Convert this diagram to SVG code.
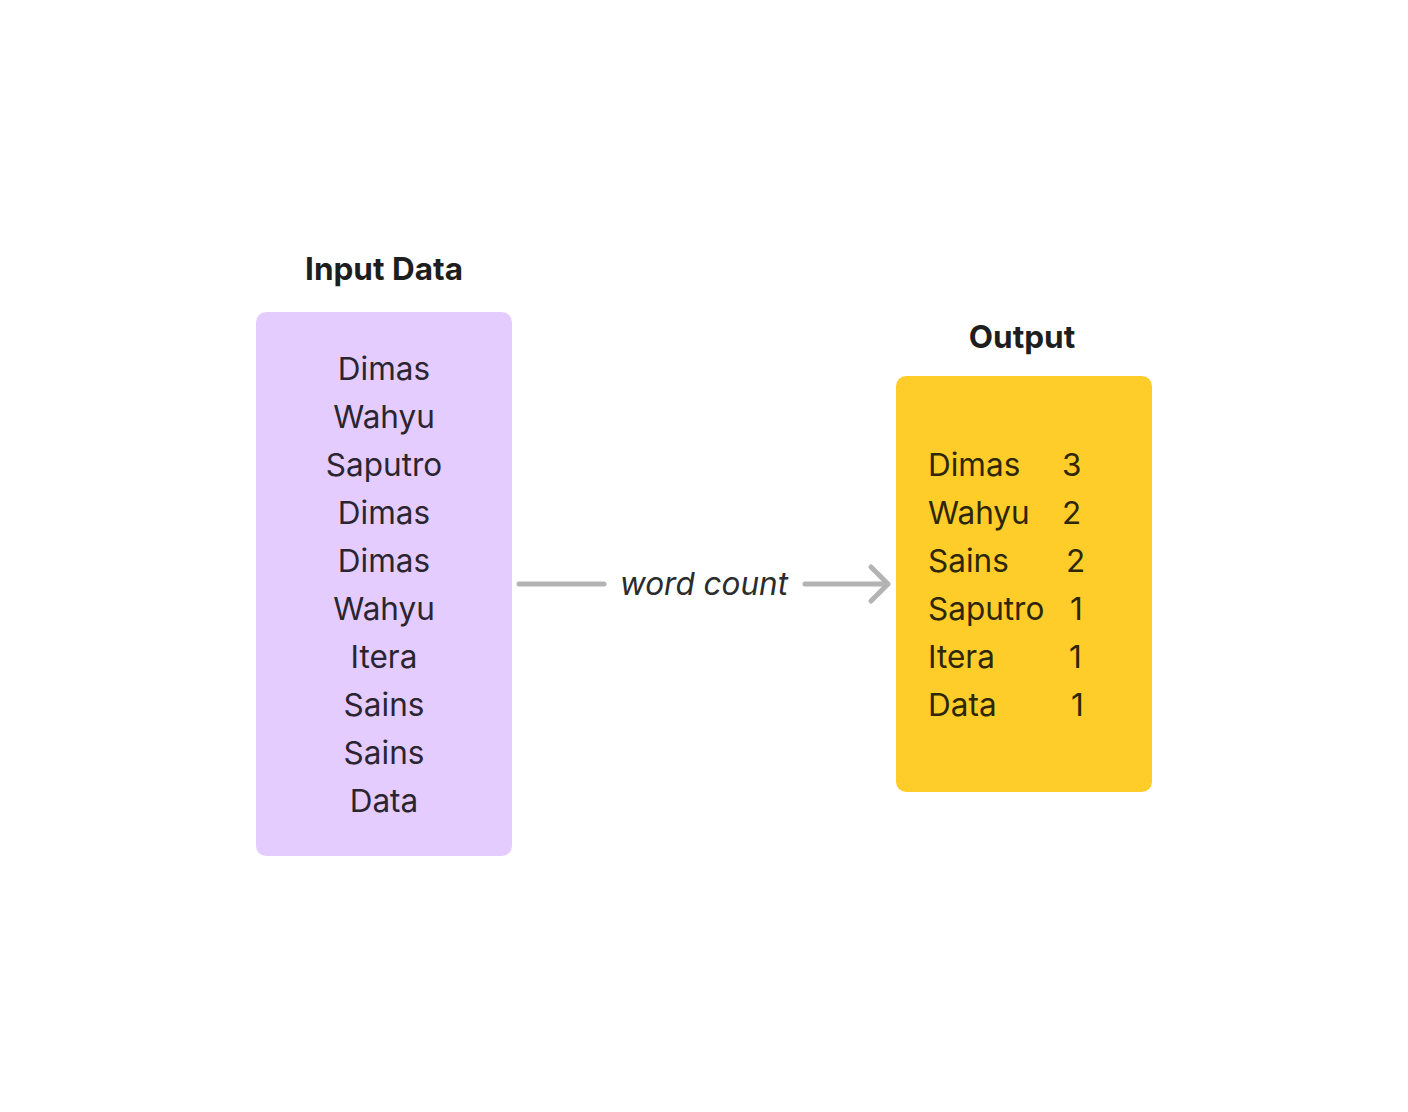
<svg xmlns="http://www.w3.org/2000/svg" width="1408" height="1112" viewBox="0 0 1408 1112">
<style>
.t{font-family:Inter,"Noto Sans",sans-serif;font-size:31.5px;fill:#2a2530}
.title{font-family:Inter,"Noto Sans",sans-serif;font-size:31.5px;font-weight:700;fill:#1e1e1e;text-anchor:middle}
.c{text-anchor:middle}
.o{fill:#2e2608}
.conn{stroke:#b3b3b3;stroke-width:5;stroke-linecap:round;stroke-linejoin:round;fill:none}
.lbl{font-family:Inter,"Noto Sans",sans-serif;font-size:31.5px;font-style:italic;fill:#2c2c2c;text-anchor:middle}
</style>
<rect width="1408" height="1112" fill="#ffffff"/>
<g id="input">
<text class="title" x="384" y="280">Input Data</text>
<rect x="256" y="312" width="256" height="544" rx="10" fill="#e4ccff"/>
<text class="t c" x="384" y="380">Dimas</text>
<text class="t c" x="384" y="428">Wahyu</text>
<text class="t c" x="384" y="476">Saputro</text>
<text class="t c" x="384" y="524">Dimas</text>
<text class="t c" x="384" y="572">Dimas</text>
<text class="t c" x="384" y="620">Wahyu</text>
<text class="t c" x="384" y="668">Itera</text>
<text class="t c" x="384" y="716">Sains</text>
<text class="t c" x="384" y="764">Sains</text>
<text class="t c" x="384" y="812">Data</text>
</g>
<g id="output">
<text class="title" x="1022" y="348">Output</text>
<rect x="896" y="376" width="256" height="416" rx="10" fill="#ffcd29"/>
<text class="t o"><tspan x="928" y="476">Dimas</tspan><tspan x="1062" y="476">3</tspan><tspan x="928" y="524">Wahyu</tspan><tspan x="1062" y="524">2</tspan><tspan x="928" y="572">Sains</tspan><tspan x="1066" y="572">2</tspan><tspan x="928" y="620">Saputro</tspan><tspan x="1070" y="620">1</tspan><tspan x="928" y="668">Itera</tspan><tspan x="1069" y="668">1</tspan><tspan x="928" y="716">Data</tspan><tspan x="1071" y="716">1</tspan></text>
</g>
<g id="connectors">
<path class="conn" d="M519 584 H604"/>
<path class="conn" d="M805 584 H888 M871 567 L888 584 L871 601"/>
<text class="lbl" x="704" y="595">word count</text>
</g>
</svg>
